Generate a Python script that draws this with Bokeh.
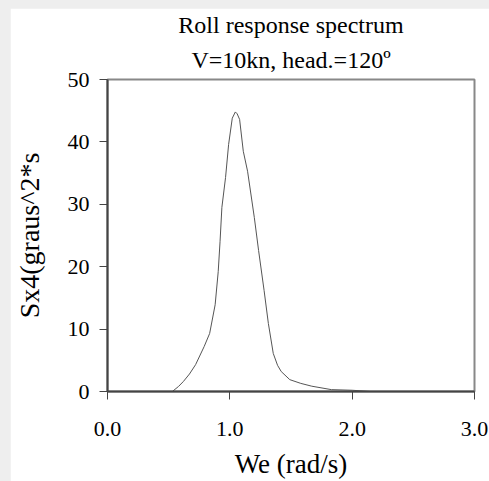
from bokeh.plotting import figure
from bokeh.models import Range1d, Title, FixedTicker
from bokeh.layouts import column
from bokeh.embed import file_html
from bokeh.resources import INLINE

we = [0.0, 0.50, 0.53, 0.58, 0.62, 0.67, 0.72, 0.79, 0.835, 0.88, 0.905, 0.92,
      0.935, 0.965, 0.99, 1.02, 1.045, 1.06, 1.08, 1.11, 1.145, 1.20, 1.235,
      1.28, 1.315, 1.355, 1.39, 1.42, 1.49, 1.58, 1.67, 1.83, 2.0, 2.15, 3.0]
sx4 = [0.0, 0.0, 0.0, 0.8, 1.6, 2.8, 4.3, 7.2, 9.3, 13.9, 19.2, 24.0,
       29.5, 34.3, 39.6, 43.8, 44.8, 44.5, 43.6, 38.5, 35.3, 27.9, 22.6,
       16.2, 10.9, 6.1, 4.2, 3.2, 1.9, 1.3, 0.85, 0.3, 0.2, 0.0, 0.0]

x_ticks = [0, 1, 2, 3]
x_tick_labels = ["0.0", "1.0", "2.0", "3.0"]
y_ticks = [0, 10, 20, 30, 40, 50]

title1 = "Roll response spectrum"
title2 = "V=10kn, head.=120º"
xlabel = "We (rad/s)"
ylabel = "Sx4(graus^2*s"

FONT = "Liberation Serif"

p = figure(width=479, height=473, output_backend="svg", toolbar_location=None,
           x_range=Range1d(0, 3), y_range=Range1d(0, 50),
           min_border_left=95, min_border_right=15, min_border_top=70,
           min_border_bottom=89)

p.line(we, sx4, line_color="#555555", line_width=1)

p.add_layout(Title(text=title2, align="center", text_font=FONT,
                   text_font_size="24px", text_font_style="normal",
                   text_color="black", standoff=13), "above")
p.add_layout(Title(text=title1, align="center", text_font=FONT,
                   text_font_size="24px", text_font_style="normal",
                   text_color="black", standoff=2), "above")

p.grid.visible = False
p.background_fill_color = "white"
p.border_fill_color = "white"
p.outline_line_color = "#888888"
p.outline_line_width = 2

for ax in (p.xaxis[0], p.yaxis[0]):
    ax.axis_line_color = "#444444"
    ax.axis_line_width = 2
    ax.major_tick_line_color = "#444444"
    ax.major_tick_line_width = 1
    ax.major_tick_in = 0
    ax.major_tick_out = 8
    ax.minor_tick_line_color = None
    ax.major_label_text_font = FONT
    ax.major_label_text_font_size = "22px"
    ax.major_label_text_color = "black"
    ax.axis_label_text_font = FONT
    ax.axis_label_text_font_size = "27px"
    ax.axis_label_text_font_style = "normal"
    ax.axis_label_text_color = "black"

p.xaxis.ticker = FixedTicker(ticks=x_ticks)
p.xaxis.major_label_overrides = {t: l for t, l in zip(x_ticks, x_tick_labels)}
p.xaxis.major_label_standoff = 22
p.xaxis.axis_label = xlabel
p.xaxis.axis_label_standoff = 10

p.yaxis.ticker = FixedTicker(ticks=y_ticks)
p.yaxis.major_label_standoff = 10
p.yaxis.axis_label = ylabel
p.yaxis.axis_label_text_font_size = "28px"
p.yaxis.axis_label_standoff = 20

layout = column(p, styles={"background-color": "#eeeeee",
                           "padding-left": "10px", "padding-top": "8px"})

open("out.html", "w").write(file_html(layout, INLINE))
